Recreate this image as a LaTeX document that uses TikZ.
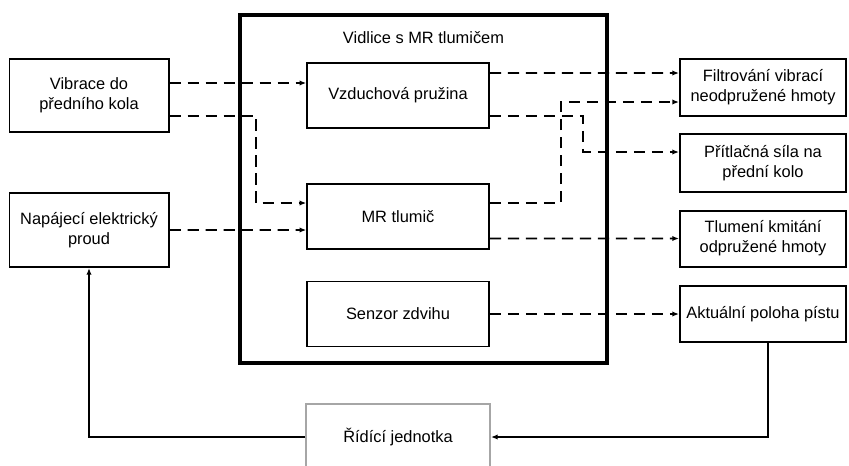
\documentclass[tikz,border=0pt]{standalone}
\usepackage{fontspec}
\setmainfont{Liberation Sans}
\usetikzlibrary{positioning,arrows.meta}

\begin{document}
\begin{tikzpicture}[x=0.03cm,y=-0.03cm,
font=\fontsize{14}{17}\selectfont,
box/.style={draw,rectangle,line width=1.7pt,align=center,inner sep=0pt,minimum width=4.98cm},
inbox/.style={draw,rectangle,line width=1.3pt,minimum width=5.46cm,minimum height=1.95cm,inner sep=0pt},
flow/.style={line width=1.5pt,dash pattern=on 0.34cm off 0.2cm,-{Latex[length=2mm,width=1.6mm]}},
ctl/.style={line width=1.7pt,-{Latex[length=2mm,width=1.6mm]}}]
\useasboundingbox (0,0) rectangle (849,465);

% inputs
\node (vib) [box,minimum width=4.77cm,minimum height=2.19cm] at (89,95.5) {Vibrace do\\předního kola};
\node (nap) [box,minimum width=4.77cm,minimum height=2.22cm] at (89,230) {Napájecí elektrický\\proud};

% fork
\node (fork) [draw,line width=2.7pt,minimum width=11.01cm,minimum height=10.44cm] at (423.5,189) {};
\node (title) [below=0.42cm of fork.north] {Vidlice s MR tlumičem};
\node (spring) [inbox] at (398,95.5) {Vzduchová pružina};
\node (damper) [inbox] at (398,216.5) {MR tlumič};
\node (sensor) [inbox] at (398,314) {Senzor zdvihu};

% outputs
\node (filt) [box,minimum height=1.71cm] at (763,87.5) {Filtrování vibrací\\neodpružené hmoty};
\node (press) [box,minimum height=1.74cm] at (763,163) {Přítlačná síla na\\přední kolo};
\node (damp) [box,minimum height=1.68cm] at (763,238.5) {Tlumení kmitání\\odpružené hmoty};
\node (pos) [box,minimum height=1.68cm] at (763,314) {Aktuální poloha pístu};

\node (ctrl) [draw=gray!70,line width=1.7pt,minimum width=5.52cm,minimum height=2.01cm] at (398,437) {Řídící jednotka};

\draw[flow] ([yshift=0.375cm]vib.east) -- ([yshift=0.375cm]spring.west);
\draw[flow] ([yshift=-0.615cm]vib.east) -| ([xshift=-1.5cm,yshift=0.405cm]damper.west) -- ([yshift=0.405cm]damper.west);
\draw[flow] (nap.east) -- ([yshift=-0.405cm]damper.west);
\draw[flow] ([yshift=0.675cm]spring.east) -- ([yshift=0.435cm]filt.west);
\draw[flow] ([yshift=-0.615cm]spring.east) -| ([xshift=-2.88cm,yshift=0.33cm]press.west) -- ([yshift=0.33cm]press.west);
\draw[flow] ([yshift=0.405cm]damper.east) -| ([xshift=-3.54cm,yshift=-0.435cm]filt.west) -- ([yshift=-0.435cm]filt.west);
\draw[flow] ([yshift=-0.66cm]damper.east) -- (damp.west);
\draw[flow] (sensor.east) -- (pos.west);

% control loop
\draw[ctl] ([xshift=0.15cm]pos.south) |- (ctrl.east);
\draw[ctl] (ctrl.west) -| (nap.south);
\end{tikzpicture}
\end{document}
